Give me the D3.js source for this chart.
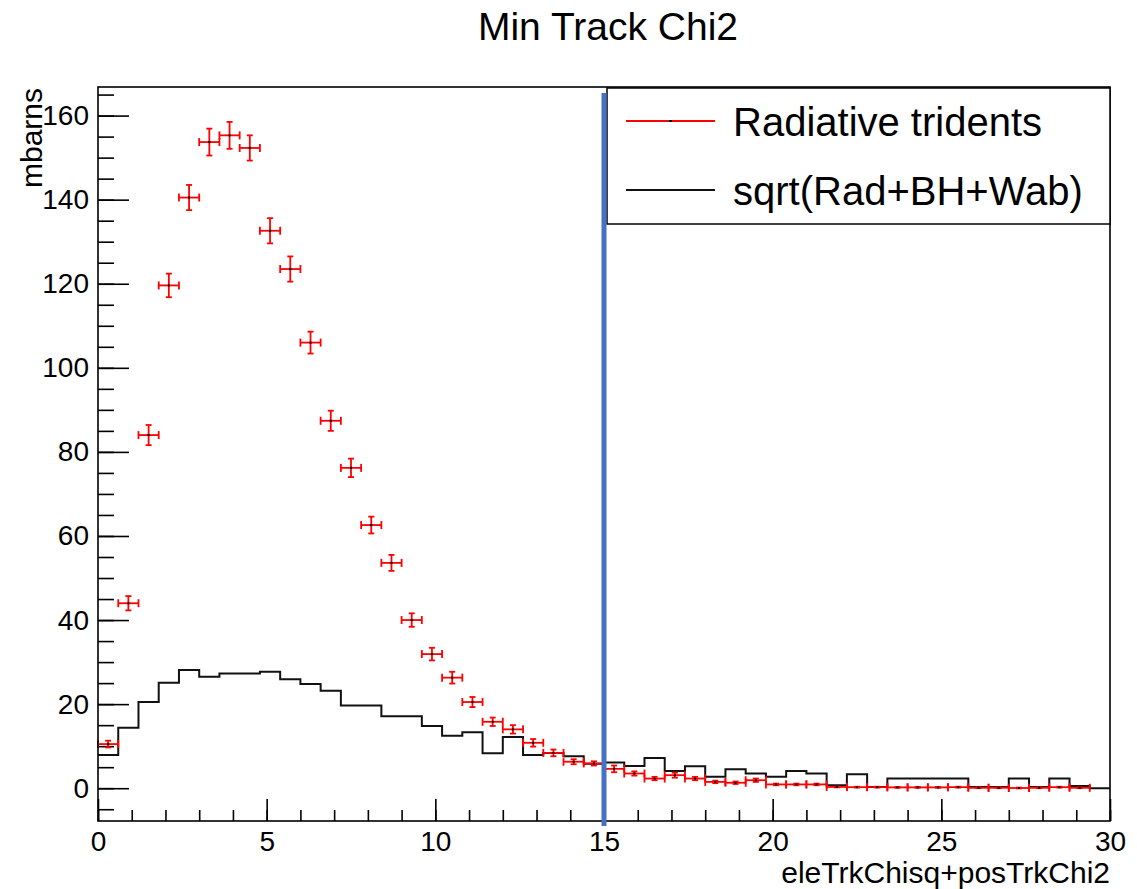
<!DOCTYPE html>
<html>
<head>
<meta charset="utf-8">
<script src="https://cdn.jsdelivr.net/npm/d3@7"></script>
<style>
  body { margin: 0; background: #fff; }
  svg { display: block; font-family: "Liberation Sans", Arial, sans-serif; }
</style>
</head>
<body>
<svg id="chart" width="1137" height="889"></svg>
<script>
// histogram binning (0..30, 50 bins of 0.6)
const binEdges = d3.range(0, 50).map(i => +(i * 0.6).toFixed(1));
const binWidth = 0.6;

// Radiative tridents (red points) and their errors
const radVals = [10.5, 44.0, 84.0, 119.6, 140.5, 153.7, 155.3, 152.3, 132.6, 123.5,
                 106.0, 87.4, 76.2, 62.6, 53.6, 40.0, 31.9, 26.3, 20.5, 15.8,
                 14.0, 10.8, 8.4, 6.3, 5.9, 4.6, 3.5, 2.3, 3.1, 2.3,
                 1.5, 1.3, 1.9, 0.9, 0.9, 0.9, 0.3, 0.25, 0.25, 0.2,
                 0.2, 0.2, 0.25, 0.1, 0.1, 0.05, 0.1, 0.25, 0.1, 0];
const radErr = [0.8, 1.7, 2.4, 2.8, 3.0, 3.2, 3.2, 3.0, 3.0, 3.0,
                2.6, 2.4, 2.2, 2.0, 1.9, 1.6, 1.5, 1.4, 1.2, 1.0,
                1.0, 0.9, 0.8, 0.6, 0.5, 0.8, 0.5, 0.4, 0.6, 0.4,
                0.3, 0.3, 0.4, 0.2, 0.2, 0.2, 0.1, 0.1, 0.1, 0.1,
                0.1, 0.1, 0.1, 0.1, 0.1, 0.1, 0.1, 0.1, 0.1, 0];

// sqrt(Rad+BH+Wab) (black histogram)
const sqrtVals = [7.9, 14.4, 20.5, 25.1, 28.1, 26.5, 27.3, 27.3, 27.7, 25.9,
                  24.8, 23.2, 19.7, 19.7, 17.1, 17.1, 14.8, 12.5, 13.3, 8.3,
                  12.2, 7.9, 8.4, 7.6, 5.8, 6.1, 5.3, 7.2, 4.1, 5.2,
                  2.7, 4.5, 3.5, 2.7, 4.1, 3.5, 0.7, 3.3, 0.3, 2.3,
                  2.3, 2.3, 2.3, 0.3, 0.3, 2.3, 0.3, 2.3, 0.5, 0];

const xMajorTicks = [0, 5, 10, 15, 20, 25, 30];
const yMajorTicks = [0, 20, 40, 60, 80, 100, 120, 140, 160];
const cutValue = 15;

const titleText = "Min Track Chi2";
const xTitle = "eleTrkChisq+posTrkChi2";
const yTitle = "mbarns";
const legendLabels = ["Radiative tridents", "sqrt(Rad+BH+Wab)"];

const svg = d3.select("#chart");
const frame = { left: 98, right: 1110, top: 87, bottom: 821 };

const x = d3.scaleLinear().domain([0, 30]).range([frame.left, frame.right]);
const y = d3.scaleLinear().domain([-7.8, 166.8]).range([frame.bottom, frame.top]);

// title
svg.append("text")
    .attr("x", 608).attr("y", 40)
    .attr("text-anchor", "middle")
    .attr("font-size", 39)
    .text(titleText);

// x axis: minor then major ticks (pointing inward)
svg.append("g")
    .attr("transform", `translate(0,${frame.bottom})`)
    .call(d3.axisBottom(x).tickValues(d3.range(0, 31, 1)).tickSize(-11).tickSizeOuter(0).tickFormat(""))
    .call(g => g.select(".domain").remove());

svg.append("g")
    .attr("transform", `translate(0,${frame.bottom})`)
    .call(d3.axisBottom(x).tickValues(xMajorTicks).tickSize(-22).tickSizeOuter(0).tickPadding(10))
    .call(g => g.select(".domain").remove())
    .call(g => g.selectAll("text").attr("font-size", 28).attr("fill", "#000").attr("font-family", null));

// y axis
svg.append("g")
    .attr("transform", `translate(${frame.left},0)`)
    .call(d3.axisLeft(y).tickValues(d3.range(-5, 166, 5)).tickSize(-16).tickSizeOuter(0).tickFormat(""))
    .call(g => g.select(".domain").remove());

svg.append("g")
    .attr("transform", `translate(${frame.left},0)`)
    .call(d3.axisLeft(y).tickValues(yMajorTicks).tickSize(-31).tickSizeOuter(0).tickPadding(9))
    .call(g => g.select(".domain").remove())
    .call(g => g.selectAll("text").attr("font-size", 28).attr("fill", "#000").attr("font-family", null));

svg.selectAll(".tick line").attr("stroke", "#000").attr("stroke-width", 1.6);

// axis titles
svg.append("text")
    .attr("x", frame.right).attr("y", 883)
    .attr("text-anchor", "end")
    .attr("font-size", 30)
    .text(xTitle);

svg.append("text")
    .attr("transform", `translate(42,${frame.top + 1}) rotate(-90)`)
    .attr("text-anchor", "end")
    .attr("font-size", 30)
    .text(yTitle);

// black histogram as a step line
const stepPts = [];
sqrtVals.forEach((v, i) => {
    stepPts.push([binEdges[i], v]);
    stepPts.push([binEdges[i] + binWidth, v]);
});
const line = d3.line().x(d => x(d[0])).y(d => y(d[1]));
svg.append("path")
    .datum(stepPts)
    .attr("d", line)
    .attr("fill", "none")
    .attr("stroke", "#111")
    .attr("stroke-width", 2);

// red error-bar points
const pts = radVals.map((v, i) => ({ lo: binEdges[i], hi: binEdges[i] + binWidth, c: binEdges[i] + binWidth / 2, v, e: radErr[i] }))
    .filter(d => d.v > 0);

const pg = svg.append("g").attr("stroke", "#ff0000").attr("stroke-width", 1.8);
pg.selectAll(".hbar").data(pts).join("line")
    .attr("x1", d => x(d.lo)).attr("x2", d => x(d.hi))
    .attr("y1", d => y(d.v)).attr("y2", d => y(d.v));
pg.selectAll(".hcapL").data(pts).join("line")
    .attr("x1", d => x(d.lo)).attr("x2", d => x(d.lo))
    .attr("y1", d => y(d.v) - 4).attr("y2", d => y(d.v) + 4);
pg.selectAll(".hcapR").data(pts).join("line")
    .attr("x1", d => x(d.hi)).attr("x2", d => x(d.hi))
    .attr("y1", d => y(d.v) - 4).attr("y2", d => y(d.v) + 4);
pg.selectAll(".vbar").data(pts).join("line")
    .attr("x1", d => x(d.c)).attr("x2", d => x(d.c))
    .attr("y1", d => y(d.v - d.e)).attr("y2", d => y(d.v + d.e));
pg.selectAll(".vcapT").data(pts).join("line")
    .attr("x1", d => x(d.c) - 3).attr("x2", d => x(d.c) + 3)
    .attr("y1", d => y(d.v + d.e)).attr("y2", d => y(d.v + d.e));
pg.selectAll(".vcapB").data(pts).join("line")
    .attr("x1", d => x(d.c) - 3).attr("x2", d => x(d.c) + 3)
    .attr("y1", d => y(d.v - d.e)).attr("y2", d => y(d.v - d.e));
svg.append("g").selectAll("rect").data(pts).join("rect")
    .attr("x", d => x(d.c) - 1).attr("y", d => y(d.v) - 1)
    .attr("width", 2).attr("height", 2)
    .attr("fill", "#000");

// frame
svg.append("rect")
    .attr("x", frame.left).attr("y", frame.top)
    .attr("width", frame.right - frame.left).attr("height", frame.bottom - frame.top)
    .attr("fill", "none").attr("stroke", "#000").attr("stroke-width", 1.6);

// legend
const leg = svg.append("g");
leg.append("rect")
    .attr("x", 607).attr("y", 88).attr("width", 503).attr("height", 136)
    .attr("fill", "#fff").attr("stroke", "#000").attr("stroke-width", 1.5);
leg.append("line").attr("x1", 626).attr("x2", 715).attr("y1", 121).attr("y2", 121)
    .attr("stroke", "#ff0000").attr("stroke-width", 1.8);
leg.append("rect").attr("x", 669).attr("y", 120).attr("width", 3).attr("height", 2).attr("fill", "#000");
leg.append("line").attr("x1", 626).attr("x2", 715).attr("y1", 190).attr("y2", 190)
    .attr("stroke", "#111").attr("stroke-width", 2);
leg.selectAll("text").data(legendLabels).join("text")
    .attr("x", 733).attr("y", (d, i) => i === 0 ? 136 : 205)
    .attr("font-size", 40)
    .text(d => d);

// cut line at x = 15
svg.append("line")
    .attr("x1", x(cutValue)).attr("x2", x(cutValue))
    .attr("y1", frame.top + 6).attr("y2", frame.bottom + 5)
    .attr("stroke", "#4472c4").attr("stroke-width", 5);
</script>
</body>
</html>
